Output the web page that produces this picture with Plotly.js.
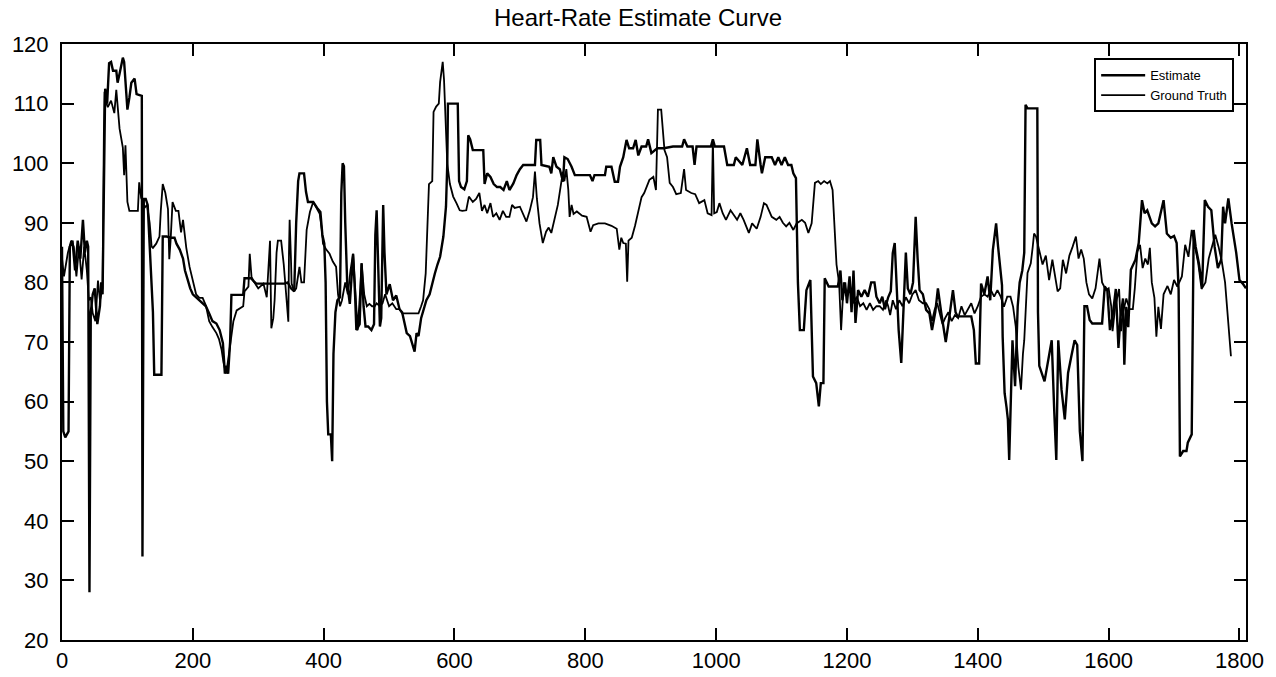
<!DOCTYPE html>
<html>
<head>
<meta charset="utf-8">
<script src="https://cdn.plot.ly/plotly-3.0.1.min.js"></script>
<style>html,body{margin:0;padding:0;background:#fff;}#chart{width:1276px;height:677px;}</style>
</head>
<body>
<div id="chart"></div>
<script>
// ---- data ----
var chartTitle = 'Heart-Rate Estimate Curve';
var seriesNames = ['Estimate', 'Ground Truth'];
var xTicks = [0, 200, 400, 600, 800, 1000, 1200, 1400, 1600, 1800];
var yTicks = [20, 30, 40, 50, 60, 70, 80, 90, 100, 110, 120];

var estX = [0,2,5,10,12,16,20,24,28,32,35,38,40,42,44,47,50,54,58,60,62,64,66,69,72,75,78,83,85,88,93,95,98,100,103,106,111,114,122,123,125,128,131,136,139,141,152,154,160,166,172,175,180,185,188,192,196,200,205,210,215,220,225,230,236,241,246,249,251,254,257,259,277,279,290,293,297,340,345,350,355,358,361,363,370,373,376,384,390,395,398,401,403,405,407,411,413,415,418,421,425,427,429,431,433,436,440,443,445,448,450,455,458,461,464,468,473,477,479,481,483,486,488,490,491,493,496,501,506,511,516,520,524,527,532,536,539,542,545,549,552,557,562,566,570,574,578,583,587,589,590,605,607,610,615,619,621,624,628,644,646,650,655,660,665,670,675,680,684,690,695,700,705,723,725,731,733,745,748,751,756,761,766,768,773,779,784,807,811,814,830,832,840,845,850,853,858,863,867,873,877,881,886,893,896,901,910,920,934,948,951,956,964,967,970,992,995,998,1012,1017,1027,1030,1040,1047,1052,1060,1063,1068,1070,1075,1085,1090,1095,1100,1105,1110,1115,1118,1122,1125,1128,1134,1138,1144,1148,1153,1157,1160,1164,1166,1172,1186,1190,1193,1197,1200,1204,1207,1210,1213,1217,1222,1227,1232,1237,1242,1245,1250,1254,1258,1263,1267,1270,1273,1276,1279,1283,1286,1290,1293,1297,1301,1305,1308,1311,1316,1321,1326,1330,1335,1339,1344,1348,1351,1355,1358,1362,1366,1369,1390,1394,1397,1402,1405,1410,1415,1419,1423,1428,1431,1434,1437,1438,1441,1444,1446,1448,1450,1453,1457,1461,1464,1468,1471,1473,1476,1491,1492,1494,1502,1508,1513,1517,1520,1523,1528,1533,1538,1543,1548,1552,1556,1560,1563,1567,1571,1575,1590,1594,1598,1602,1606,1611,1615,1618,1622,1624,1627,1630,1634,1641,1646,1651,1655,1659,1666,1671,1676,1684,1689,1695,1700,1704,1707,1709,1714,1719,1721,1727,1730,1733,1738,1743,1747,1752,1757,1762,1767,1772,1775,1778,1783,1788,1795,1800,1805,1810];
var estY = [86,55,54,55,86,87,82,87,84,90.5,85,87,86,28,75,78,79,73,76,80,78,100,112.5,110,116.8,117,115.5,115.5,113.5,115,117.7,117,112.9,109,111,113.5,114.2,111.6,111.3,34,94,94,93,82,75,64.5,64.5,87.7,87.7,87.5,87.5,86.5,85.5,84,82,80.5,79,78,77.5,77,76.5,76,74.8,73.5,73.1,72,69.8,64.7,66,64.7,70,77.9,77.9,80.7,80.7,80.2,79.8,79.8,80,79,78.5,90,97,98.3,98.3,95.2,93.5,93.5,92.5,91.8,88,86.5,80,60,54.5,54.5,50,68,75,77,77.5,95,100,99.5,90,79.8,76.4,82,84.8,78,72,73,83.2,76,72.6,72.6,72,73,88,92.1,85,72.6,74,88,93,85,78,79.7,77,77.8,75.5,75,73,71.5,71,69.5,68.4,71.5,71,74,75,77,78,80,81.5,83,84.3,87.7,92.7,100,110,110,97,96,95.6,97,104.7,104,102.2,102.2,96.5,98.3,97.7,96.5,96,96,95.5,97,95.5,96.6,98,99,99.7,99.7,103.9,103.9,99.7,99.4,98.3,101,99.4,99,96.9,101,100.7,99.4,98,98,97,98,98,99.4,99.4,96.9,96.9,99.4,101,103.9,102.5,102.5,103.9,101.3,102.8,102.8,104,101.7,102.5,102.5,102.8,102.8,104,102.8,102.8,99.7,102.8,102.8,104,102.8,102.8,99.7,99.7,101,99.7,102.5,99.7,99.7,104,99.7,98.3,101,101,99.7,101,99.7,101,99.7,99.7,98.3,97.5,80,72,72,78.7,80.4,64.2,63.1,59.2,63.1,63.1,80.7,79.3,79.3,82,77,80,76.5,81,75,82,73.2,78.7,77.6,78.7,77.6,80,80,77.6,76.5,77.6,75.5,77.5,78.5,84.9,86.6,80,72,66.5,75,85,79,78,80,91,84,78.7,78,75.4,74.8,72,75,79,75,72,70,73,75.5,78.7,75,74.3,74.3,72,66.4,66.4,79.8,78,81,77,85.4,89.9,86,82.6,79.5,70.9,61.4,59,57,50.2,60,70.3,62.6,76,80,82,85,109.8,109.2,109.2,75,66,63.4,67,70.3,58,50.2,70.3,62,57,64.8,67.6,70.3,69.5,55,50,76,76,73.7,73.1,73.1,79.3,78.7,72,74.3,78.9,69,74,77.3,66.2,75.9,72.5,82.1,83.8,86.6,93.8,91.6,92.1,89.9,89.4,89.9,93.8,88.2,87.5,87.8,86.6,78.7,50.8,51.7,51.7,53.1,54.5,88.8,86,83.2,79.3,93.8,92.7,92.1,86,82.4,83.8,92.7,89.9,94.1,89.9,85,80.4,79.8,79];

var gtX = [0,3,6,9,14,18,22,26,30,34,38,41,44,47,51,55,58,62,64,65,68,70,75,80,83,86,88,93,95,97,99,100,103,116,118,121,124,126,130,134,137,139,144,149,151,154,158,162,164,166,169,174,178,182,185,188,190,195,200,205,210,215,220,225,230,236,240,244,247,251,254,259,262,267,272,277,279,285,287,290,293,297,300,305,308,313,316,318,320,323,325,328,330,335,339,343,346,347,348,350,351,355,358,363,366,370,374,379,384,389,394,397,399,404,409,414,419,422,425,428,433,437,441,445,448,452,456,458,462,466,470,474,478,481,486,490,494,500,505,511,516,520,527,535,541,545,549,552,556,559,561,566,568,572,576,578,582,584,586,589,593,598,603,608,612,618,622,628,633,638,642,646,650,655,659,664,669,674,679,684,688,692,700,705,710,715,720,723,726,730,735,740,744,748,753,758,763,766,768,771,774,776,779,782,787,795,802,808,812,820,830,840,848,852,855,858,862,864,866,871,876,880,886,890,894,898,904,908,911,916,921,925,929,934,939,946,951,954,962,968,974,982,987,993,995,997,1001,1005,1010,1015,1022,1027,1032,1037,1042,1050,1055,1062,1068,1073,1077,1085,1092,1097,1102,1107,1112,1118,1123,1131,1136,1141,1146,1151,1156,1160,1165,1170,1174,1178,1181,1184,1188,1191,1195,1200,1205,1210,1215,1220,1225,1230,1235,1240,1245,1250,1255,1260,1263,1266,1270,1275,1280,1285,1290,1295,1300,1305,1310,1316,1321,1326,1330,1334,1338,1342,1346,1350,1355,1360,1365,1370,1375,1380,1385,1390,1395,1400,1405,1410,1415,1420,1425,1430,1435,1440,1445,1450,1454,1458,1462,1466,1469,1471,1476,1481,1484,1486,1489,1494,1499,1504,1509,1514,1518,1522,1526,1530,1535,1540,1545,1550,1554,1558,1562,1566,1570,1575,1580,1586,1590,1596,1600,1604,1606,1610,1616,1619,1622,1627,1632,1637,1640,1644,1648,1652,1656,1660,1663,1666,1670,1673,1676,1680,1684,1690,1695,1700,1705,1712,1717,1722,1727,1732,1737,1742,1748,1753,1758,1763,1768,1773,1778,1782,1787];
var gtY = [84,81,83,85,87,86,81,86,80.5,86,82,77,77.5,74.8,73.5,80.3,77,79,105,112,110,109.4,110.5,108.4,112.3,108,105.8,102.6,98,103,96,93.5,92,92,96.8,94.2,93.5,92.5,93,90,86,85.8,86.5,87.7,92,96.5,95,92.3,83.9,87,93.5,92,92,88.4,90.5,88,85.8,82.6,80,78,77.4,77.4,76.1,73.5,72.5,71.5,70.5,68.7,66.5,64.7,67,71.5,73.5,75.3,75.6,76,78.5,79.3,84.8,80.5,80.2,79.5,79,79.5,79.8,77.5,84,87,72.3,74,77,85,87,87,83,78,73.4,85,90.5,84,79.8,78.5,79,82.6,80,80,88.8,91.8,93.5,92.5,91.5,89,86.5,85.5,84.8,83.5,82.6,78,76,77,80,78,82,84.8,79,72,79,83.2,78,76,76.4,76,76,76.5,76,76.5,78,76,76.5,75.5,75.5,74.8,74.8,74.8,74.8,74.8,76,77,81.5,90,96.5,97,108.6,109.5,110,113.6,117,114,107,99.9,96.5,94.4,93.3,92.1,92,92.1,94.4,93.5,94,95,92,93,91.6,93.3,91,91.6,90.5,92,91,91,93,92.5,92.7,91.5,90.2,92,94.3,98.6,94,89.9,86.6,88.5,89.2,88.3,90.5,93,96.6,98.6,97,99,95.5,91,93,91.5,91.9,91.2,91,88.5,89.6,89.9,89.9,89.5,89,85.5,87.5,86.6,86.5,80.1,87,87.5,89.5,91.5,94.3,95,96,97.2,97.7,95.5,109,109,102.2,101,96.7,96,94.8,95,99,95.5,95,94.8,93.3,93.8,91.6,91.3,104,91.6,91.8,93.3,91.6,90.5,92.1,91.2,90.5,91.6,90.5,88.3,89.9,89,91,93.3,93,91,90.5,91,90,89.4,90,88.8,89.9,90.5,90,88.3,89.9,96.7,97,96.5,97,96.6,97,95.5,90,83,79.9,72,80,78,79.3,76.5,77.6,76,76.5,75.4,76.5,75.4,76,76,75.4,77,76,74.5,77,75.5,77,76,77.5,76.5,78,78.7,77,76.5,76.5,75.5,73.5,75.4,76.5,74.8,73,74,75,73.5,74.5,74,76,74.5,75.5,76.5,74.8,76,77.6,78,77.6,78.7,77.6,78.7,77.6,75.9,77.6,77.6,75.9,72.6,65.8,62,68,70.3,81.6,83.2,86,88.2,87.7,85.4,83,84.5,80.4,83.8,81,78.5,79,83.8,81.5,84.5,86,87.7,84,85.5,84,80,78,77.3,79,84,80,78.7,79,76,71.8,75.9,78.9,71.8,75,77.3,75.5,75.5,79,85.2,86.3,82.4,84,83,85.8,80,77.4,70.9,75.9,72.2,78,79.4,78,80.4,79.3,81,86.3,84.3,88.8,86,83.2,78.9,80,84,86,88,86,83.5,80,75,67.6];

// ---- chart ----
var fontFamily = 'Liberation Sans, Arial, Helvetica, sans-serif';
var traces = [
  {x: estX, y: estY, type: 'scatter', mode: 'lines', name: seriesNames[0],
   line: {color: '#000', width: 2.4}},
  {x: gtX, y: gtY, type: 'scatter', mode: 'lines', name: seriesNames[1],
   line: {color: '#000', width: 1.8}}
];
var axisCommon = {
  showline: true, linecolor: '#000', linewidth: 2, mirror: 'ticks',
  ticks: 'inside', ticklen: 12, tickwidth: 2, tickcolor: '#000',
  showgrid: false, zeroline: false,
  tickfont: {family: fontFamily, size: 22, color: '#000'}
};
var layout = {
  width: 1276, height: 677,
  paper_bgcolor: '#fff', plot_bgcolor: '#fff',
  margin: {l: 62, r: 30, t: 44, b: 37, pad: 0},
  title: {text: chartTitle, x: 0.5, xref: 'container', y: 0.974, yref: 'container', yanchor: 'middle',
          font: {family: fontFamily, size: 24, color: '#000'}},
  xaxis: Object.assign({}, axisCommon, {range: [0, 1810], tickvals: xTicks, ticktext: xTicks.map(String), ticklabelstandoff: 0}),
  yaxis: Object.assign({}, axisCommon, {range: [20, 120], tickvals: yTicks, ticktext: yTicks.map(String), ticklabelstandoff: 7}),
  showlegend: true,
  legend: {x: 0.99, y: 0.976, xanchor: 'right', yanchor: 'top', bgcolor: '#fff',
           bordercolor: '#000', borderwidth: 2, itemwidth: 44,
           font: {family: fontFamily, size: 13, color: '#000'},
           tracegroupgap: 0}
};
Plotly.newPlot('chart', traces, layout, {staticPlot: true, displayModeBar: false});
</script>
</body>
</html>
